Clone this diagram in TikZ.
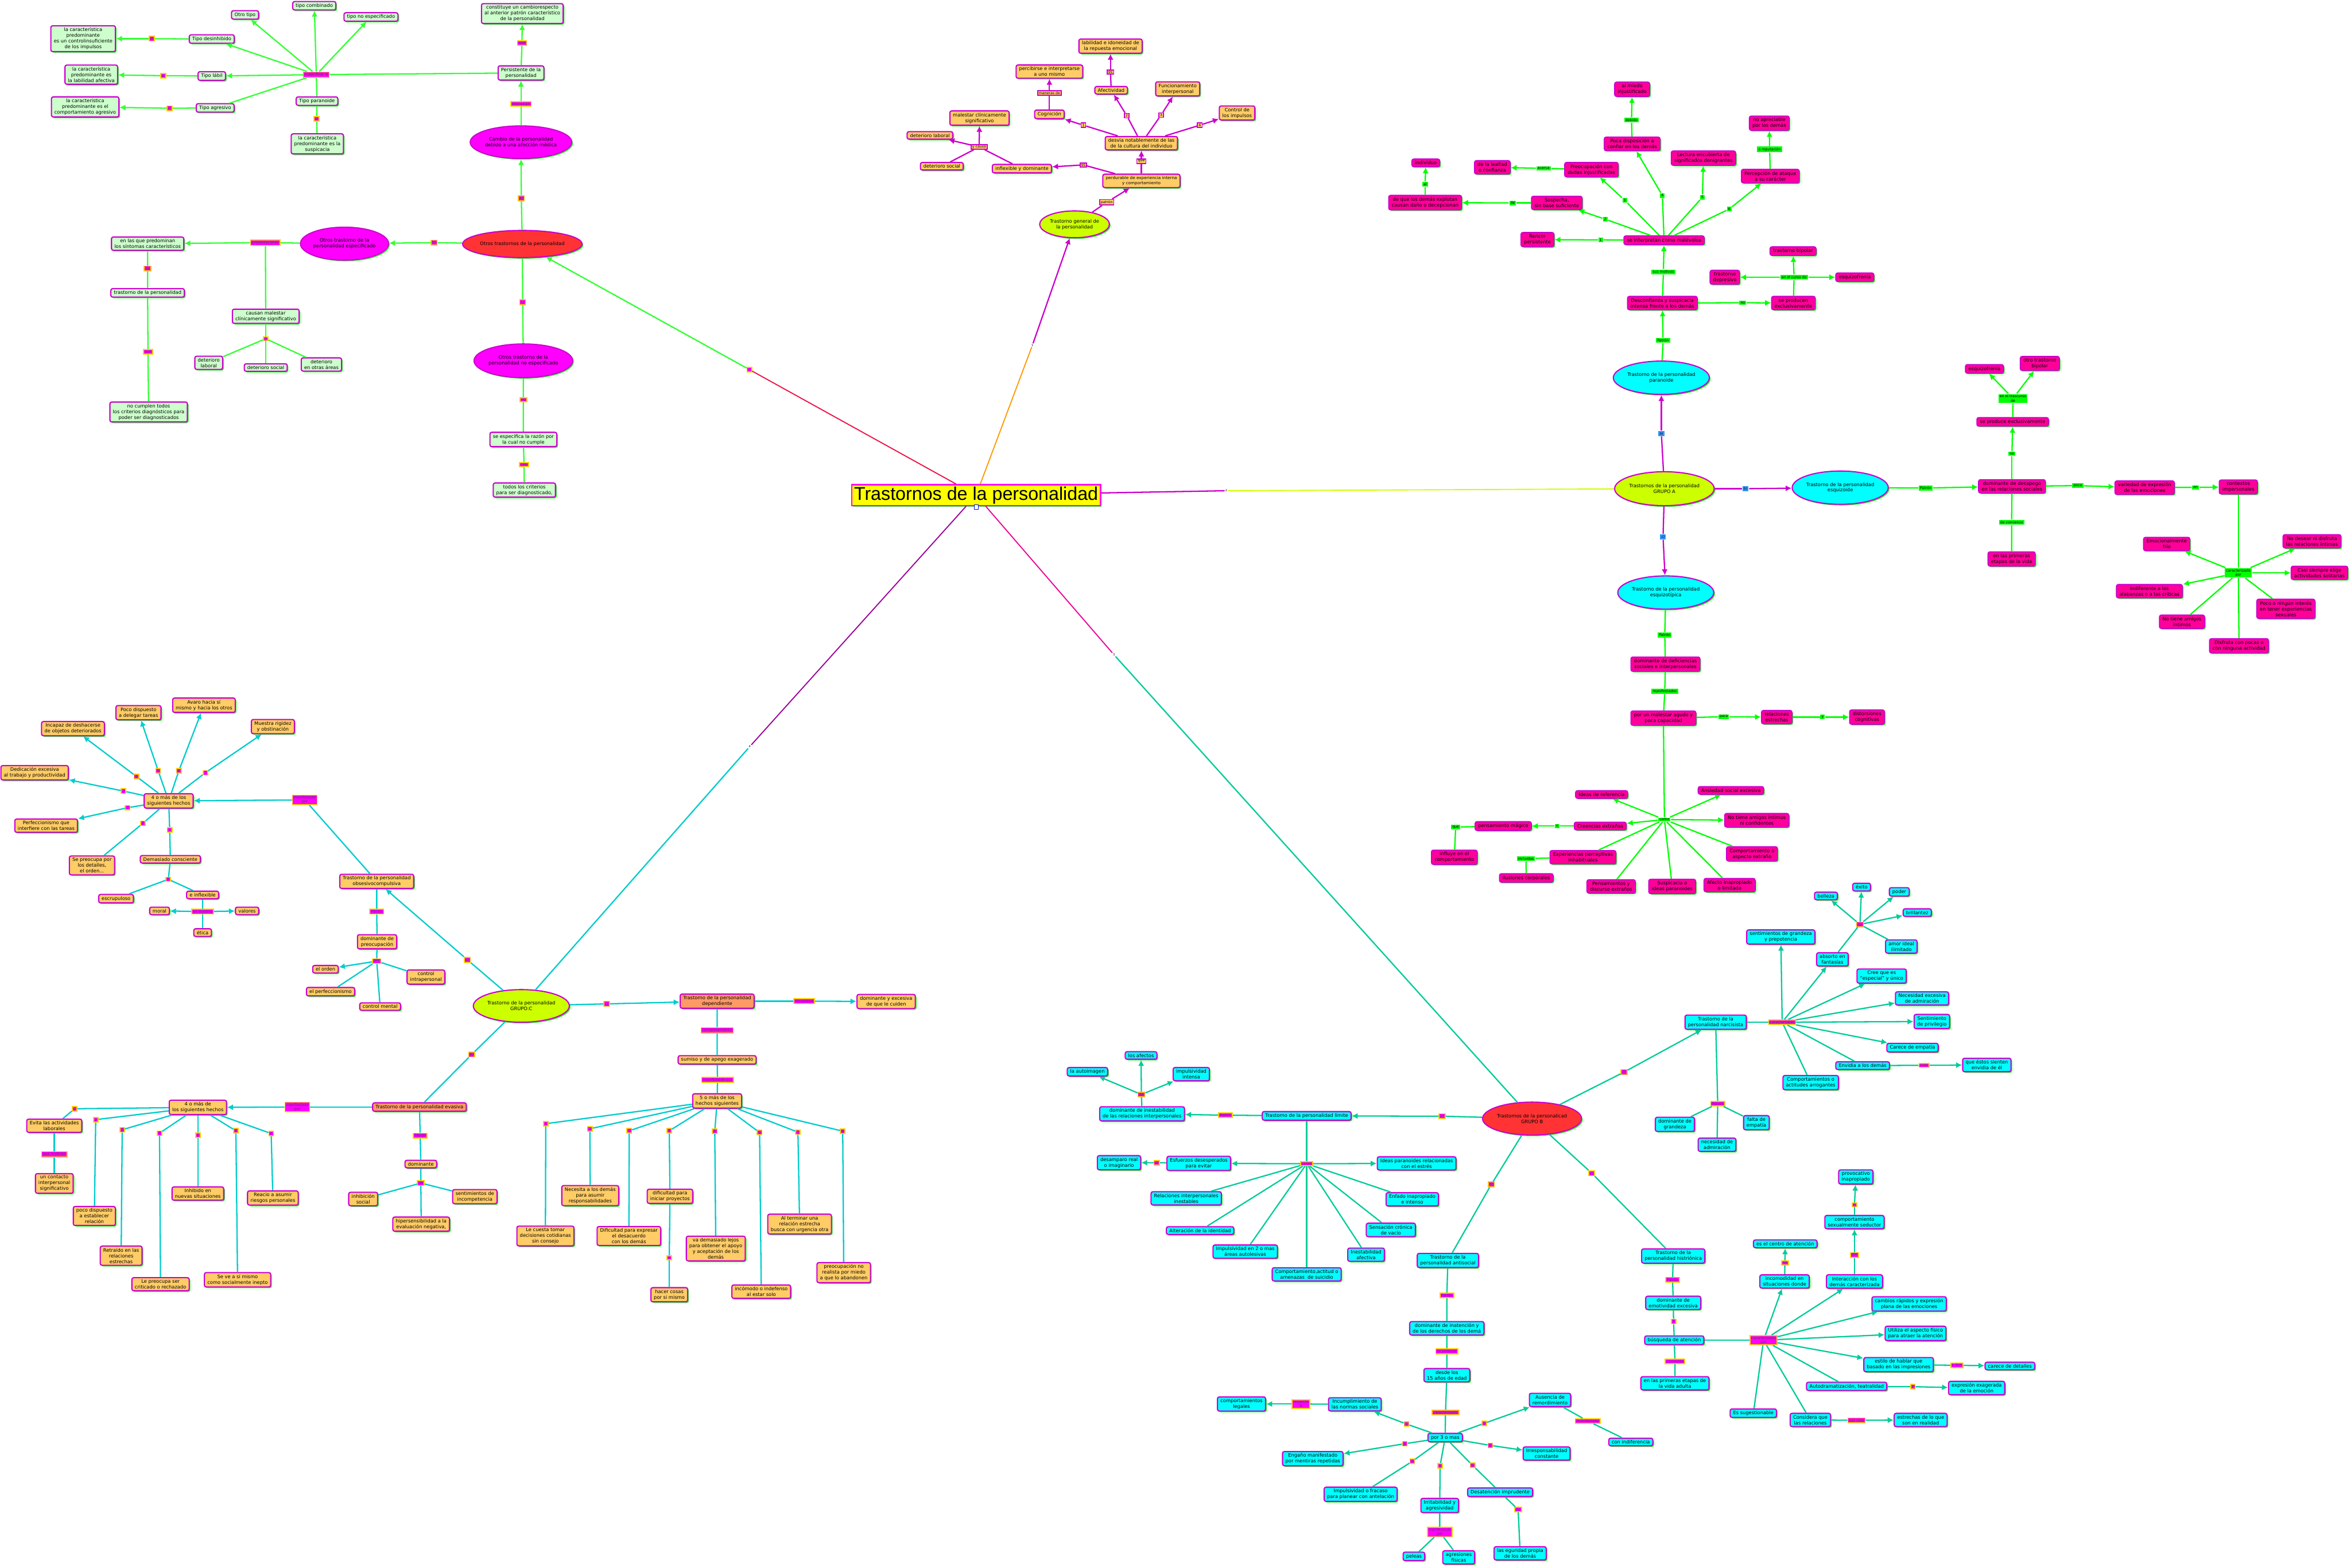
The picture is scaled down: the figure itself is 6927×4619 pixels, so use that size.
\documentclass[tikz,border=0pt]{standalone}
\usepackage{fontspec}
\setmainfont{DejaVu Sans}
\newfontfamily\titlefont{Liberation Sans}
\usetikzlibrary{shapes.geometric,shadows,arrows.meta}
\definecolor{boxgreen}{HTML}{CCFFCC}
\definecolor{boxorange}{HTML}{FFCC66}
\definecolor{boxpink}{HTML}{FF0099}
\definecolor{boxcyan}{HTML}{00FFFF}
\definecolor{boxsalmon}{HTML}{FF9966}
\definecolor{bordermag}{HTML}{CC00CC}
\definecolor{shadowgreen}{HTML}{33FF33}
\definecolor{lblmag}{HTML}{FF00FF}
\definecolor{lblorange}{HTML}{FFCC00}
\definecolor{lblgreen}{HTML}{00FF00}
\definecolor{lblblue}{HTML}{3399FF}
\definecolor{ellred}{HTML}{FF3333}
\definecolor{ellmag}{HTML}{FF00FF}
\definecolor{elllime}{HTML}{CCFF00}
\definecolor{titleyellow}{HTML}{FFFF00}
\definecolor{cgreen}{HTML}{33FF33}
\definecolor{cmag}{HTML}{CC00CC}
\definecolor{cbright}{HTML}{00FF00}
\definecolor{cteal}{HTML}{00CC99}
\definecolor{ccyan}{HTML}{00CCCC}
\definecolor{cred}{HTML}{EE1144}
\definecolor{corange}{HTML}{FF9900}
\definecolor{clime}{HTML}{CCFF00}
\definecolor{cpink}{HTML}{EE0099}
\definecolor{cpurple}{HTML}{990099}
\newcommand{\boxtxt}{\fontsize{4}{4.8}\selectfont}
\newcommand{\lbltxt}{\fontsize{3}{3.4}\selectfont}

\begin{document}
\begin{tikzpicture}[x=0.01cm,y=-0.01cm,
  shade/.style={drop shadow={shadow xshift=1pt,shadow yshift=-1pt,fill=shadowgreen,opacity=1}},
  box/.style={rectangle,rounded corners=1.5pt,draw=bordermag,line width=1pt,align=center,
    font=\boxtxt,inner xsep=2.5pt,inner ysep=1.6pt,shade},
  gbox/.style={box,fill=boxgreen},
  obox/.style={box,fill=boxorange},
  pbox/.style={box,fill=boxpink},
  cbox/.style={box,fill=boxcyan},
  sbox/.style={box,fill=boxsalmon},
  ell/.style={ellipse,draw=bordermag,line width=1pt,align=center,font=\boxtxt,
    inner sep=0pt,minimum width=2.4cm,minimum height=0.98cm,shade},
  lbl/.style={rectangle,font=\lbltxt,align=center,inner xsep=1pt,inner ysep=0.8pt,
    fill=lblmag,draw=lblorange,line width=0.8pt,text=black!80!magenta},
  olbl/.style={lbl,fill=boxorange,draw=bordermag,text=black},
  glbl/.style={lbl,fill=lblgreen,draw=none,text=black},
  blbl/.style={lbl,fill=lblblue,draw=none,text=black},
  num/.style={font=\fontsize{2.5}{3}\selectfont,inner sep=0.4pt,fill=white},
  arr/.style={-{Latex[length=5pt,width=5pt]}},
  egreen/.style={draw=cgreen,line width=1.1pt},
  emag/.style={draw=cmag,line width=1.1pt},
  ebright/.style={draw=cbright,line width=1.1pt},
  eteal/.style={draw=cteal,line width=1.1pt},
  ecyan/.style={draw=ccyan,line width=1.1pt},
  ered/.style={draw=cred,line width=0.9pt},
  eorange/.style={draw=corange,line width=0.9pt},
  elime/.style={draw=clime,line width=0.9pt},
  epink/.style={draw=cpink,line width=0.9pt},
  epurple/.style={draw=cpurple,line width=0.9pt}]

\fill[white] (0,0) rectangle (6927,4619);
\useasboundingbox (0,0) rectangle (6927,4619);

% Title
\node[draw=ellmag,fill=titleyellow,line width=1.2pt,inner xsep=2pt,inner ysep=1.5pt,
  font=\titlefont\fontsize{15.5}{16}\selectfont,shade] (title) at (2876,1459) {Trastornos de la personalidad};
\node[draw=blue,fill=white,line width=0.4pt,minimum size=0.12cm,inner sep=0pt] (icon) at (2876,1494) {};

% Numbers on the main branches
\node[num] (m1) at (3042,1017) {1};
\node[num] (m2) at (3613,1446) {2};
\node[num] (m3) at (3282,1929) {3};
\node[num] (m5) at (2209,2200) {4};
\node[lbl] (l4) at (2208,1089) {4};

% Otros trastornos de la personalidad
\node[ell,fill=ellred,minimum width=2.7cm,minimum height=0.8cm] (otros) at (1539,719) {Otros trastornos de la personalidad};
\node[lbl] (la) at (1536,584) {a)};
\node[ell,fill=ellmag,minimum width=2.39cm,minimum height=0.96cm] (cambio) at (1535,419) {Cambio de la personalidad\\debido a una afección médica};
\node[lbl] (alter) at (1535,306) {Alteración};
\node[gbox] (persis) at (1535,215) {Persistente de la\\personalidad};
\node[lbl] (queper) at (1538,127) {que};
\node[gbox] (constit) at (1539,40) {constituye un cambiorespecto\\al anterior patrón característico\\de la personalidad};
\node[lbl] (espsi) at (932,220) {especificar si};
\node[gbox] (otro) at (722,44) {Otro tipo};
\node[gbox] (comb) at (926,17) {tipo combinado};
\node[gbox] (noesp) at (1093,50) {tipo no especificado};
\node[gbox] (desin) at (624,115) {Tipo desinhibido};
\node[lbl] (sidesin) at (447,114) {si};
\node[gbox] (cdesin) at (245,114) {la característica\\predominante\\es un controlinsuficiente\\de los impulsos};
\node[gbox] (labil) at (624,224) {Tipo lábil};
\node[lbl] (silabil) at (481,223) {si};
\node[gbox] (clabil) at (269,220) {la característica\\predominante es\\la labilidad afectiva};
\node[gbox] (agres) at (634,318) {Tipo agresivo};
\node[lbl] (siagres) at (500,319) {si};
\node[gbox] (cagres) at (251,315) {la característica\\predominante es el\\comportamiento agresivo};
\node[gbox] (paran) at (934,298) {Tipo paranoide};
\node[lbl] (siparan) at (933,350) {si};
\node[gbox] (cparan) at (935,424) {la característica\\predominante es la\\suspicacia};
\node[lbl] (lb) at (1279,715) {b)};
\node[ell,fill=ellmag,minimum width=2.16cm,minimum height=0.97cm] (otresp) at (1015,718) {Otros trastorno de la\\personalidad especificado};
\node[lbl] (present) at (782,715) {presentaciones};
\node[gbox] (predom) at (435,718) {en las que predominan\\los síntomas característicos};
\node[lbl] (lde) at (435,791) {de};
\node[gbox] (trper) at (435,863) {trastorno de la personalidad};
\node[lbl] (lque) at (436,1037) {que};
\node[gbox] (nocumpl) at (438,1214) {no cumplen todos\\los criterios diagnósticos para\\poder ser diagnosticados};
\node[gbox] (causan) at (783,932) {causan malestar\\clínicamente significativo};
\node[lbl] (lo) at (783,998) {o};
\node[gbox] (detlab) at (615,1069) {deterioro\\laboral};
\node[gbox] (detsoc) at (783,1083) {deterioro social};
\node[gbox] (detotr) at (947,1074) {deterioro\\en otras áreas};
\node[lbl] (lc) at (1540,890) {c)};
\node[ell,fill=ellmag,minimum width=2.35cm,minimum height=0.99cm] (otrnoesp) at (1542,1063) {Otros trastorno de la\\personalidad no especificado};
\node[lbl] (lno) at (1542,1178) {no};
\node[gbox] (razon) at (1542,1295) {se especifica la razón por\\la cual no cumple};
\node[lbl] (lcon) at (1544,1369) {con};
\node[gbox] (todos) at (1545,1444) {todos los criterios\\para ser diagnosticado,};

% Trastorno general de la personalidad
\node[ell,fill=elllime,minimum width=1.56cm,minimum height=0.79cm] (general) at (3166,661) {Trastorno general de\\la personalidad};
\node[olbl] (patron) at (3261,596) {patrón};
\node[obox,font=\fontsize{3.5}{4.6}\selectfont] (perdur) at (3363,533) {perdurable de experiencia interna\\y comportamiento};
\node[olbl] (lque2) at (3363,475) {que};
\node[obox] (desvia) at (3363,422) {desvìa notablemente de las\\de la cultura del individuo};
\node[olbl] (n1) at (3192,369) {1};
\node[olbl] (n2) at (3320,341) {2};
\node[olbl] (n3) at (3421,339) {3};
\node[olbl] (n4) at (3535,369) {4};
\node[obox] (cogn) at (3092,337) {Cognición};
\node[olbl] (maneras) at (3092,274) {maneras de};
\node[obox] (percib) at (3092,211) {percibirse e interpretarse\\a uno mismo};
\node[obox] (afect) at (3274,266) {Afectividad};
\node[olbl] (les) at (3272,212) {es};
\node[obox] (labil2) at (3272,136) {labilidad e idoneidad de\\la repuesta emocional};
\node[obox] (funcion) at (3470,262) {Funcionamiento\\interpersonal};
\node[obox] (control) at (3645,333) {Control de\\los impulsos};
\node[olbl] (les2) at (3192,486) {es};
\node[obox] (inflex) at (3011,497) {inflexible y dominante};
\node[olbl] (ycausa) at (2885,433) {y causa};
\node[obox] (malest) at (2886,348) {malestar clínicamente\\significativo};
\node[obox] (detlab2) at (2740,399) {deterioro laboral};
\node[obox] (detsoc2) at (2775,490) {deterioro social};

% GRUPO A
\node[ell,fill=elllime,minimum width=2.43cm,minimum height=1cm] (grupoA) at (4904,1440) {Trastornos de la personalidad\\GRUPO A};
\node[blbl] (la2) at (4895,1277) {a)};
\node[blbl] (lb2) at (5143,1440) {b)};
\node[blbl] (lc2) at (4900,1582) {c)};
% paranoide
\node[ell,fill=boxcyan] (paranoide) at (4895,1113) {Trastorno de la personalidad\\paranoide};
\node[glbl] (lpatP) at (4900,1003) {Patrón};
\node[pbox] (desconf) at (4898,893) {Desconfianza y suspicacia\\intensa frente a los demás};
\node[glbl] (lmotiv) at (4901,801) {sus motivos};
\node[pbox] (malev) at (4903,708) {se interpretan como malévolos};
\node[glbl] (lno2) at (5135,892) {no};
\node[pbox] (exclus) at (5284,893) {se producen\\exclusivamente};
\node[glbl] (lcurso) at (5286,817) {en el curso de};
\node[pbox] (bipolar) at (5283,740) {trastorno bipolar};
\node[pbox] (depres) at (5082,817) {trastorno\\depresivo};
\node[pbox] (esquiz) at (5465,817) {esquizofrenia};
\node[glbl] (p1) at (4716,707) {1};
\node[glbl] (p2) at (4730,646) {2};
\node[glbl] (p3) at (4787,590) {3};
\node[glbl] (p4) at (4898,576) {4};
\node[glbl] (p5) at (5016,581) {5};
\node[glbl] (p6) at (5095,616) {6};
\node[pbox] (rencor) at (4530,706) {Rencor\\persistente};
\node[pbox] (sospecha) at (4587,598) {Sospecha,\\sin base suficiente};
\node[glbl] (lde3) at (4457,598) {de};
\node[pbox] (explot) at (4199,597) {de que los demás explotan\\causan daño o decepcionan};
\node[glbl] (lal) at (4199,543) {al};
\node[pbox] (indiv) at (4201,480) {individuo};
\node[pbox] (preocup) at (4689,500) {Preocupación con\\dudas injustificadas};
\node[glbl] (lacerca) at (4548,496) {acerca};
\node[pbox] (lealtad) at (4397,493) {de la lealtad\\o confianza};
\node[pbox] (poca) at (4809,424) {Poca disposición a\\confiar en los demás};
\node[glbl] (ldebido) at (4807,354) {debido};
\node[pbox] (miedo) at (4809,263) {al miedo\\injustificado};
\node[pbox] (lectura) at (5019,466) {Lectura encubierta de\\significados denigrantes};
\node[pbox] (percep) at (5216,519) {Percepción de ataque\\a su carácter};
\node[glbl] (lorep) at (5214,440) {o reputación};
\node[pbox] (noapr) at (5213,363) {no apreciable\\por los demás};
% esquizoide
\node[ell,fill=boxcyan] (esquizoide) at (5422,1437) {Trastorno de la personalidad\\esquizoide};
\node[glbl] (lpatE) at (5674,1438) {Patrón};
\node[pbox] (desapego) at (5928,1433) {dominante de desapego\\en las relaciones sociales};
\node[glbl] (lno3) at (5928,1337) {no};
\node[pbox] (seprod) at (5930,1243) {se produce exclusivamente};
\node[glbl] (ltrasc) at (5931,1174) {en el trascurso\\de};
\node[pbox] (esquiz2) at (5847,1087) {esquizofrenia};
\node[pbox] (otrobip) at (6010,1071) {otro trastorno\\bipolar};
\node[glbl] (lcomienzo) at (5927,1539) {de comienzo};
\node[pbox] (primeras) at (5927,1647) {en las primeras\\etapas de la vida};
\node[glbl] (lpoca) at (6122,1431) {poca};
\node[pbox] (variedad) at (6319,1437) {variedad de expresión\\de las emociones};
\node[glbl] (len) at (6469,1436) {en};
\node[pbox] (contextos) at (6595,1435) {contextos\\impersonales};
\node[glbl] (lcaract) at (6595,1688) {caracterizada\\por};
\node[pbox] (frio) at (6384,1603) {Emocionalmente\\frío};
\node[pbox] (nodesear) at (6812,1595) {No desear ni disfruta\\las relaciones íntimas};
\node[pbox] (casi) at (6834,1688) {Casi siempre elige\\actividades solitarias};
\node[pbox] (indif) at (6333,1742) {Indiferente a las\\alabanzas o a las críticas};
\node[pbox] (pocoint) at (6735,1794) {Poco o ningún interés\\en tener experiencias\\sexuales};
\node[pbox] (notiene) at (6429,1832) {No tiene amigos\\íntimos};
\node[pbox] (disfruta) at (6597,1903) {Disfruta con pocas o\\con ninguna actividad};
% esquizotipica
\node[ell,fill=boxcyan] (esquizot) at (4908,1746) {Trastorno de la personalidad\\esquizotípica};
\node[glbl] (lpatT) at (4905,1871) {Patrón};
\node[pbox] (defic) at (4907,1957) {dominante de deficiencias\\sociales e interpersonales};
\node[glbl] (lmanif) at (4905,2037) {manifestados};
\node[pbox] (malagudo) at (4901,2116) {por un malestar agudo y\\poca capacidad};
\node[glbl] (lpara) at (5079,2112) {para};
\node[pbox] (relest) at (5235,2113) {relaciones\\estrechas};
\node[glbl] (ly) at (5370,2113) {y};
\node[pbox] (distors) at (5501,2113) {distorsiones\\cognitivas};
\node[glbl] (lcomo) at (4904,2415) {como};
\node[pbox] (ideasref) at (4719,2341) {Ideas de referencia};
\node[pbox] (ansiedad) at (5100,2329) {Ansiedad social excesiva};
\node[pbox] (notiene2) at (5176,2417) {No tiene amigos íntimos\\ni confidentes};
\node[pbox] (creenc) at (4715,2434) {Creencias extrañas};
\node[glbl] (lo3) at (4588,2434) {o};
\node[pbox] (magico) at (4429,2434) {pensamiento mágico};
\node[glbl] (lque3) at (4289,2437) {que};
\node[pbox] (influye) at (4285,2526) {influye en el\\comportamiento};
\node[pbox] (experi) at (4664,2526) {Experiencias perceptivas\\inhabituales};
\node[glbl] (lincl) at (4496,2530) {incluidas};
\node[pbox] (ilusion) at (4497,2587) {ilusiones corporales};
\node[pbox] (comport) at (5162,2516) {Comportamiento o\\aspecto extraño};
\node[pbox] (pensam) at (4747,2612) {Pensamientos y\\discurso extraños};
\node[pbox] (suspic) at (4927,2612) {Suspicacia o\\ideas paranoides};
\node[pbox] (afecto) at (5096,2608) {Afecto inapropiado\\o limitado};

% GRUPO B
\node[ell,fill=ellred,minimum width=2.4cm,minimum height=0.97cm] (grupoB) at (4514,3296) {Trastornos de la personalicad\\GRUPO B};
\node[lbl] (la4) at (4249,3289) {a)};
\node[lbl] (lb4) at (4394,3490) {b)};
\node[lbl] (lc4) at (4690,3457) {c)};
\node[lbl] (ld4) at (4785,3159) {d)};
% limite
\node[cbox] (limite) at (3850,3288) {Trastorno de la personalidad límite};
\node[lbl] (lpatL) at (3611,3286) {Patrón};
\node[cbox] (dominest) at (3365,3282) {dominante de inestabilidad\\de las relaciones interpersonales};
\node[lbl] (lde5) at (3363,3225) {de};
\node[cbox] (autoimg) at (3204,3158) {la autoimagen};
\node[cbox] (afectos) at (3362,3110) {los afectos};
\node[cbox] (impuls) at (3510,3165) {impulsividad\\intensa};
\node[lbl] (lcomo2) at (3850,3429) {como};
\node[cbox] (esfuer) at (3532,3428) {Esfuerzos desesperados\\para evitar};
\node[lbl] (lel) at (3408,3426) {el};
\node[cbox] (desamp) at (3297,3426) {desamparo real\\o imaginario};
\node[cbox] (ideaspar) at (4174,3428) {Ideas paranoides relacionadas\\con el estrés};
\node[cbox] (relinest) at (3495,3531) {Relaciones interpersonales\\inestables};
\node[cbox] (enfado) at (4161,3534) {Enfado inapropiado\\e intenso};
\node[cbox] (altid) at (3536,3626) {Alteración de la identidad};
\node[cbox] (sensac) at (4098,3624) {Sensación crónica\\de vacío};
\node[cbox] (impauto) at (3669,3688) {Impulsividad en 2 o mas\\áreas autolesivas};
\node[cbox] (inestaf) at (4025,3697) {Inestabilidad\\afectiva};
\node[cbox] (suicid) at (3850,3755) {Comportamiento,actitud o\\amenazas\ \ de suicidio};
% antisocial
\node[cbox] (antisoc) at (4266,3714) {Trastorno de la\\personalidad antisocial};
\node[lbl] (lpatA) at (4263,3817) {Patrón};
\node[cbox] (inaten) at (4263,3914) {dominante de inatención y\\de los derechos de los demá};
\node[lbl] (lseprod) at (4263,3982) {se produce};
\node[cbox] (desde15) at (4263,4052) {desde los\\15 años de edad};
\node[lbl] (lcarA) at (4259,4162) {caracterizado};
\node[cbox] (por3) at (4258,4236) {por 3 o mas};
\node[lbl] (a1) at (4144,4196) {1};
\node[cbox] (incumpl) at (3992,4138) {Incumplimiento de\\las normas sociales};
\node[lbl] (lresp) at (3833,4137) {respecto\\a};
\node[cbox] (comleg) at (3658,4137) {comportamientos\\legales};
\node[lbl] (a2) at (4139,4254) {2};
\node[cbox] (engano) at (3868,4298) {Engaño manifestado\\por mentiras repetidas};
\node[lbl] (a3) at (4161,4306) {3};
\node[cbox] (impfrac) at (4009,4403) {Impulsividad o fracaso\\para planear con antelación};
\node[lbl] (a4) at (4243,4319) {4};
\node[cbox] (irrit) at (4242,4436) {Irritabilidad y\\agresividad};
\node[lbl] (lmanp) at (4242,4514) {manifestada\\por};
\node[cbox] (peleas) at (4166,4586) {peleas};
\node[cbox] (agresf) at (4298,4589) {agresiones\\físicas};
\node[lbl] (a5) at (4339,4318) {5};
\node[cbox] (desaten) at (4420,4397) {Desatención imprudente};
\node[lbl] (lde6) at (4473,4448) {de};
\node[cbox] (seguri) at (4479,4577) {las eguridad propia\\de los demás};
\node[lbl] (a6) at (4391,4259) {6};
\node[cbox] (irresp) at (4557,4283) {Irresponsabilidad\\constante};
\node[lbl] (a7) at (4373,4194) {7};
\node[cbox] (ausen) at (4567,4125) {Ausencia de\\remordimiento};
\node[lbl] (lmanA) at (4678,4187) {manifestado};
\node[cbox] (conind) at (4805,4249) {con indiferencia};
% narcisista
\node[cbox] (narcis) at (5055,3012) {Trastorno de la\\personalidad narcisista};
\node[lbl] (lcarN) at (5251,3012) {caracterizado};
\node[cbox] (sentim) at (5247,2761) {sentimientos de grandeza\\y prepotencia};
\node[cbox] (absorto) at (5399,2827) {absorto en\\fantasías};
\node[lbl] (lde4) at (5480,2724) {de};
\node[cbox] (belleza) at (5380,2640) {belleza};
\node[cbox] (exito) at (5485,2614) {éxito};
\node[cbox] (poder) at (5596,2628) {poder};
\node[cbox] (brill) at (5649,2689) {brillantez};
\node[cbox] (amor) at (5602,2789) {amor ideal\\ilimitado};
\node[cbox] (especial) at (5544,2876) {Cree que es\\“especial” y único};
\node[cbox] (necesid) at (5663,2942) {Necesidad excesiva\\de admiración};
\node[cbox] (privil) at (5692,3010) {Sentimiento\\de privilegio};
\node[cbox] (empat) at (5635,3087) {Carece de empatía};
\node[cbox] (envidia) at (5488,3140) {Envidia a los demás};
\node[lbl] (lcree) at (5669,3139) {cree};
\node[cbox] (sienten) at (5854,3138) {que éstos sienten\\envidia de él};
\node[cbox] (arrog) at (5335,3190) {Comportamientos o\\actitudes arrogantes};
\node[lbl] (lpatN) at (5061,3252) {Patrón};
\node[cbox] (domgr) at (4935,3313) {dominante de\\grandeza};
\node[cbox] (necad) at (5059,3373) {necesidad de\\admiración};
\node[cbox] (faltaem) at (5175,3308) {falta de\\empatía};
% histrionica
\node[cbox] (histr) at (4930,3701) {Trastorno de la\\personalidad histriónica};
\node[lbl] (lpatH) at (4928,3771) {Patrón};
\node[cbox] (emotiv) at (4930,3839) {dominante de\\emotividad excesiva};
\node[lbl] (ly2) at (4931,3894) {y};
\node[cbox] (busq) at (4933,3949) {búsqueda de atención};
\node[lbl] (lcomien) at (4935,4011) {comienza};
\node[cbox] (adulta) at (4935,4076) {en las primeras etapas de\\la vida adulta};
\node[lbl] (lcarH) at (5196,3949) {caracterizado\\por};
\node[cbox] (incomod) at (5258,3776) {incomodidad en\\situaciones donde};
\node[lbl] (lno4) at (5259,3721) {no};
\node[cbox] (centro) at (5260,3665) {es el centro de atención};
\node[cbox] (interac) at (5464,3776) {Interacción con los\\demás caracterizada};
\node[lbl] (lpor) at (5464,3698) {por};
\node[cbox] (sexual) at (5464,3601) {comportamiento\\sexualmente seductor};
\node[lbl] (lo4) at (5464,3550) {o};
\node[cbox] (provoc) at (5468,3468) {provocativo\\inapropiado};
\node[cbox] (cambios) at (5625,3842) {cambios rápidos y expresión\\plana de las emociones};
\node[cbox] (utiliza) at (5644,3929) {Utiliza el aspecto físico\\para atraer la atención};
\node[cbox] (estilo) at (5594,4021) {estilo de hablar que\\basado en las impresiones};
\node[lbl] (lyque) at (5766,4023) {y que};
\node[cbox] (detalles) at (5922,4025) {carece de detalles};
\node[cbox] (autodr) at (5441,4085) {Autodramatización, teatralidad};
\node[lbl] (ly3) at (5636,4086) {y};
\node[cbox] (exager) at (5824,4090) {expresión exagerada\\de la emoción};
\node[cbox] (sugest) at (5166,4164) {Es sugestionable};
\node[cbox] (consid) at (5334,4184) {Considera que\\las relaciones};
\node[lbl] (lsonmas) at (5470,4185) {son más};
\node[cbox] (estrech) at (5659,4184) {estrechas de lo que\\son en realidad};

% GRUPO C
\node[ell,fill=elllime,minimum width=2.34cm,minimum height=0.96cm] (grupoC) at (1536,2964) {Trastorno de la personalidad\\GRUPO:C};
\node[lbl] (la3) at (1377,2828) {a)};
\node[lbl] (lb3) at (1390,3107) {b)};
\node[lbl] (lc3) at (1788,2958) {c)};
% obsesiva
\node[obox] (obses) at (1110,2597) {Trastorno de la personalidad\\obsesivocompulsiva};
\node[lbl] (lmanO) at (898,2357) {manifestado\\por};
\node[obox] (hechosO) at (497,2360) {4 o más de los\\siguientes hechos};
\node[lbl] (o1) at (500,2445) {1};
\node[lbl] (o2) at (376,2380) {2};
\node[lbl] (o2b) at (421,2426) {2};
\node[lbl] (o3) at (364,2331) {3};
\node[lbl] (o4) at (402,2288) {4};
\node[lbl] (o5) at (466,2271) {5};
\node[lbl] (o6) at (527,2271) {6};
\node[lbl] (o7) at (605,2277) {7};
\node[obox] (incapaz) at (215,2147) {Incapaz de deshacerse\\de objetos deteriorados};
\node[obox] (pocodel) at (408,2100) {Poco dispuesto\\a delegar tareas};
\node[obox] (avaro) at (601,2078) {Avaro hacia sí\\mismo y hacia los otros};
\node[obox] (rigidez) at (804,2141) {Muestra rigidez\\y obstinación};
\node[obox] (dedic) at (102,2277) {Dedicación excesiva\\al trabajo y productividad};
\node[obox] (perfec) at (136,2433) {Perfeccionismo que\\interfiere con las tareas};
\node[obox] (detall) at (271,2550) {Se preocupa por\\los detalles,\\el orden...};
\node[obox] (demas) at (502,2532) {Demasiado consciente};
\node[lbl] (lo5) at (496,2591) {o};
\node[obox] (escrup) at (342,2648) {escrupuloso};
\node[obox] (inflexb) at (597,2637) {e inflexible};
\node[lbl] (lmat) at (597,2686) {en materia};
\node[obox] (moral) at (470,2684) {moral};
\node[obox] (valores) at (728,2684) {valores};
\node[obox] (etica) at (597,2748) {ética};
\node[lbl] (lpatO) at (1110,2686) {Patrón};
\node[obox] (dompre) at (1111,2775) {dominante de\\preocupación};
\node[lbl] (lporO) at (1110,2832) {por};
\node[obox] (elorden) at (959,2856) {el orden};
\node[obox] (elperf) at (974,2922) {el perfeccionismo};
\node[obox] (ctrlmen) at (1120,2966) {control mental};
\node[obox] (ctrlint) at (1255,2879) {control\\intrapersonal};
% evasiva
\node[sbox] (evasiva) at (1236,3262) {Trastorno de la personalidad evasiva};
\node[lbl] (lmanE) at (876,3262) {manifestado\\por};
\node[obox] (hechosE) at (583,3263) {4 o más de\\los siguientes hechos};
\node[lbl] (e1) at (220,3267) {1};
\node[lbl] (e2) at (282,3299) {2};
\node[lbl] (e3) at (360,3329) {3};
\node[lbl] (e4) at (470,3339) {4};
\node[lbl] (e5) at (583,3345) {5};
\node[lbl] (e6) at (695,3332) {6};
\node[lbl] (e7) at (799,3340) {7};
\node[obox] (evita) at (160,3317) {Evita las actividades\\laborales};
\node[lbl] (lqueimp) at (160,3401) {que implican};
\node[obox] (contacto) at (160,3487) {un contacto\\interpersonal\\significativo};
\node[obox] (pocoest) at (278,3583) {poco dispuesto\\a establecer\\relación};
\node[obox] (retraido) at (357,3700) {Retraído en las\\relaciones\\estrechas};
\node[obox] (lepreoc) at (473,3784) {Le preocupa ser\\criticado o rechazado};
\node[obox] (inhibido) at (583,3517) {Inhibido en\\nuevas situaciones};
\node[obox] (seve) at (700,3771) {Se ve a sí mismo\\como socialmente inepto};
\node[obox] (reacio) at (804,3530) {Reacio a asumir\\riesgos personales};
\node[lbl] (lpatEv) at (1238,3346) {Patrón};
\node[obox] (domin) at (1240,3430) {dominante};
\node[lbl] (ldeEv) at (1240,3486) {de};
\node[obox] (inhib) at (1070,3533) {inhibición\\social};
\node[obox] (sentinc) at (1399,3526) {sentimientos de\\incompetencia};
\node[obox] (hipers) at (1241,3607) {hipersensibilidad a la\\evaluación negativa,};
% dependiente
\node[sbox] (depend) at (2113,2950) {Trastorno de la personalidad\\dependiente};
\node[lbl] (lneces) at (2369,2950) {necesidad};
\node[obox] (domexc) at (2611,2951) {dominante y excesiva\\de que le cuiden};
\node[lbl] (lcomp) at (2113,3036) {comportamiento};
\node[obox] (sumiso) at (2113,3123) {sumiso y de apego exagerado};
\node[lbl] (lmanD) at (2114,3182) {manifestado por};
\node[obox] (hechosD) at (2113,3244) {5 o más de los\\hechos siguientes};
\node[lbl] (d1) at (1608,3311) {1};
\node[lbl] (d2) at (1738,3326) {2};
\node[lbl] (d3) at (1854,3332) {3};
\node[lbl] (d4) at (1972,3332) {4};
\node[lbl] (d5) at (2106,3333) {5};
\node[lbl] (d6) at (2238,3337) {6};
\node[lbl] (d7) at (2351,3336) {7};
\node[lbl] (d8) at (2483,3333) {8};
\node[obox] (cuesta) at (1607,3642) {Le cuesta tomar\\decisiones cotidianas\\sin consejo};
\node[obox] (necesita) at (1739,3523) {Necesita a los demás\\para asumir\\responsabilidades};
\node[obox] (difexp) at (1853,3642) {Dificultad para expresar\\el desacuerdo\\con los demás};
\node[obox] (difini) at (1974,3525) {dificultad para\\iniciar proyectos};
\node[lbl] (lo6) at (1972,3706) {o};
\node[obox] (hacer) at (1972,3815) {hacer cosas\\por si mismo};
\node[obox] (vadem) at (2109,3679) {va demasiado lejos\\para obtener el apoyo\\y aceptación de los\\demás};
\node[obox] (incomo) at (2243,3806) {incómodo o indefenso\\al estar solo};
\node[obox] (alterm) at (2356,3607) {Al terminar una\\relación estrecha\\busca con urgencia otra};
\node[obox] (preocno) at (2486,3750) {preocupación no\\realista por miedo\\a que lo abandonen};

% Main branches
\draw[ered] (title) -- (l4);
\draw[egreen,arr] (l4) -- (otros);
\draw[eorange] (title) -- (m1);
\draw[emag,arr] (m1) -- (general);
\draw[emag] (title) -- (m2);
\draw[elime] (m2) -- (grupoA);
\draw[epink] (title) -- (m3);
\draw[eteal] (m3) -- (grupoB);
\draw[epurple] (title) -- (m5);
\draw[ecyan] (m5) -- (grupoC);

% Otros trastornos
\draw[egreen] (otros) -- (la);
\draw[egreen,arr] (la) -- (cambio);
\draw[egreen] (cambio) -- (alter);
\draw[egreen,arr] (alter) -- (persis);
\draw[egreen] (persis) -- (queper);
\draw[egreen,arr] (queper) -- (constit);
\draw[egreen] (persis) -- (espsi);
\foreach \t in {otro,comb,noesp,desin,labil} \draw[egreen,arr] (espsi) -- (\t);
\draw[egreen] (espsi) -- (agres);
\draw[egreen] (espsi) -- (paran);
\draw[egreen] (desin) -- (sidesin);
\draw[egreen,arr] (sidesin) -- (cdesin);
\draw[egreen] (labil) -- (silabil);
\draw[egreen,arr] (silabil) -- (clabil);
\draw[egreen] (agres) -- (siagres);
\draw[egreen,arr] (siagres) -- (cagres);
\draw[egreen] (paran) -- (siparan) -- (cparan);
\draw[egreen] (otros) -- (lb);
\draw[egreen,arr] (lb) -- (otresp);
\draw[egreen] (otresp) -- (present);
\draw[egreen,arr] (present) -- (predom);
\draw[egreen] (present) -- (causan);
\draw[egreen] (predom) -- (lde) -- (trper) -- (lque) -- (nocumpl);
\draw[egreen] (causan) -- (lo);
\foreach \t in {detlab,detsoc,detotr} \draw[egreen] (lo) -- (\t);
\draw[egreen] (otros) -- (lc) -- (otrnoesp) -- (lno) -- (razon) -- (lcon) -- (todos);

% Trastorno general
\draw[emag] (general) -- (patron);
\draw[emag,arr] (patron) -- (perdur);
\draw[emag] (perdur) -- (lque2);
\draw[emag,arr] (lque2) -- (desvia);
\foreach \n/\t in {n1/cogn,n2/afect,n3/funcion,n4/control} {
  \draw[emag] (desvia) -- (\n);
  \draw[emag,arr] (\n) -- (\t);
}
\draw[emag] (cogn) -- (maneras);
\draw[emag,arr] (maneras) -- (percib);
\draw[emag] (afect) -- (les);
\draw[emag,arr] (les) -- (labil2);
\draw[emag] (perdur) -- (les2);
\draw[emag,arr] (les2) -- (inflex);
\draw[emag] (inflex) -- (ycausa);
\draw[emag,arr] (ycausa) -- (malest);
\draw[emag,arr] (ycausa) -- (detlab2);
\draw[emag] (ycausa) -- (detsoc2);

% GRUPO A
\draw[emag] (grupoA) -- (la2);
\draw[emag,arr] (la2) -- (paranoide);
\draw[emag] (grupoA) -- (lb2);
\draw[emag,arr] (lb2) -- (esquizoide);
\draw[emag] (grupoA) -- (lc2);
\draw[emag,arr] (lc2) -- (esquizot);
% paranoide
\draw[ebright] (paranoide) -- (lpatP);
\draw[ebright,arr] (lpatP) -- (desconf);
\draw[ebright] (desconf) -- (lmotiv);
\draw[ebright,arr] (lmotiv) -- (malev);
\draw[ebright] (desconf) -- (lno2);
\draw[ebright,arr] (lno2) -- (exclus);
\draw[ebright] (exclus) -- (lcurso);
\foreach \t in {bipolar,depres,esquiz} \draw[ebright,arr] (lcurso) -- (\t);
\foreach \n/\t in {p1/rencor,p2/sospecha,p3/preocup,p4/poca,p5/lectura,p6/percep} {
  \draw[ebright] (malev) -- (\n);
  \draw[ebright,arr] (\n) -- (\t);
}
\draw[ebright] (sospecha) -- (lde3);
\draw[ebright,arr] (lde3) -- (explot);
\draw[ebright] (explot) -- (lal);
\draw[ebright,arr] (lal) -- (indiv);
\draw[ebright] (preocup) -- (lacerca);
\draw[ebright,arr] (lacerca) -- (lealtad);
\draw[ebright] (poca) -- (ldebido);
\draw[ebright,arr] (ldebido) -- (miedo);
\draw[ebright] (percep) -- (lorep);
\draw[ebright,arr] (lorep) -- (noapr);
% esquizoide
\draw[ebright] (esquizoide) -- (lpatE);
\draw[ebright,arr] (lpatE) -- (desapego);
\draw[ebright] (desapego) -- (lno3);
\draw[ebright,arr] (lno3) -- (seprod);
\draw[ebright] (seprod) -- (ltrasc);
\draw[ebright,arr] (ltrasc) -- (esquiz2);
\draw[ebright,arr] (ltrasc) -- (otrobip);
\draw[ebright] (desapego) -- (lcomienzo) -- (primeras);
\draw[ebright] (desapego) -- (lpoca);
\draw[ebright,arr] (lpoca) -- (variedad);
\draw[ebright] (variedad) -- (len);
\draw[ebright,arr] (len) -- (contextos);
\draw[ebright] (contextos) -- (lcaract);
\foreach \t in {frio,nodesear,casi,indif} \draw[ebright,arr] (lcaract) -- (\t);
\foreach \t in {pocoint,notiene,disfruta} \draw[ebright] (lcaract) -- (\t);
% esquizotipica
\draw[ebright] (esquizot) -- (lpatT) -- (defic) -- (lmanif) -- (malagudo);
\draw[ebright] (malagudo) -- (lpara);
\draw[ebright,arr] (lpara) -- (relest);
\draw[ebright] (relest) -- (ly);
\draw[ebright,arr] (ly) -- (distors);
\draw[ebright] (malagudo) -- (lcomo);
\foreach \t in {ideasref,ansiedad,notiene2,creenc} \draw[ebright,arr] (lcomo) -- (\t);
\foreach \t in {experi,pensam,suspic,afecto,comport} \draw[ebright] (lcomo) -- (\t);
\draw[ebright] (creenc) -- (lo3);
\draw[ebright,arr] (lo3) -- (magico);
\draw[ebright] (magico) -- (lque3) -- (influye);
\draw[ebright] (experi) -- (lincl) -- (ilusion);

% GRUPO B
\draw[eteal] (grupoB) -- (la4);
\draw[eteal,arr] (la4) -- (limite);
\draw[eteal] (grupoB) -- (lb4) -- (antisoc);
\draw[eteal] (grupoB) -- (lc4) -- (histr);
\draw[eteal] (grupoB) -- (ld4);
\draw[eteal,arr] (ld4) -- (narcis);
% limite
\draw[eteal] (limite) -- (lpatL);
\draw[eteal,arr] (lpatL) -- (dominest);
\draw[eteal] (dominest) -- (lde5);
\foreach \t in {autoimg,afectos,impuls} \draw[eteal,arr] (lde5) -- (\t);
\draw[eteal] (limite) -- (lcomo2);
\draw[eteal,arr] (lcomo2) -- (esfuer);
\draw[eteal,arr] (lcomo2) -- (ideaspar);
\foreach \t in {relinest,altid,impauto,suicid,inestaf,sensac,enfado} \draw[eteal] (lcomo2) -- (\t);
\draw[eteal] (esfuer) -- (lel);
\draw[eteal,arr] (lel) -- (desamp);
% antisocial
\draw[eteal] (antisoc) -- (lpatA) -- (inaten) -- (lseprod) -- (desde15) -- (lcarA) -- (por3);
\draw[eteal] (por3) -- (a1);
\draw[eteal,arr] (a1) -- (incumpl);
\draw[eteal] (incumpl) -- (lresp);
\draw[eteal,arr] (lresp) -- (comleg);
\draw[eteal] (por3) -- (a2);
\draw[eteal,arr] (a2) -- (engano);
\draw[eteal] (por3) -- (a3) -- (impfrac);
\draw[eteal] (por3) -- (a4) -- (irrit) -- (lmanp);
\draw[eteal] (lmanp) -- (peleas);
\draw[eteal] (lmanp) -- (agresf);
\draw[eteal] (por3) -- (a5) -- (desaten) -- (lde6) -- (seguri);
\draw[eteal] (por3) -- (a6);
\draw[eteal,arr] (a6) -- (irresp);
\draw[eteal] (por3) -- (a7);
\draw[eteal,arr] (a7) -- (ausen);
\draw[eteal] (ausen) -- (lmanA) -- (conind);
% narcisista
\draw[eteal] (narcis) -- (lcarN);
\foreach \t in {sentim,absorto,especial,necesid,privil,empat} \draw[eteal,arr] (lcarN) -- (\t);
\draw[eteal] (lcarN) -- (envidia);
\draw[eteal] (lcarN) -- (arrog);
\draw[eteal] (absorto) -- (lde4);
\foreach \t in {belleza,exito,poder,brill} \draw[eteal,arr] (lde4) -- (\t);
\draw[eteal] (lde4) -- (amor);
\draw[eteal] (envidia) -- (lcree);
\draw[eteal,arr] (lcree) -- (sienten);
\draw[eteal] (narcis) -- (lpatN);
\foreach \t in {domgr,necad,faltaem} \draw[eteal] (lpatN) -- (\t);
% histrionica
\draw[eteal] (histr) -- (lpatH) -- (emotiv) -- (ly2) -- (busq) -- (lcomien) -- (adulta);
\draw[eteal] (busq) -- (lcarH);
\foreach \t in {incomod,interac,cambios,utiliza,estilo} \draw[eteal,arr] (lcarH) -- (\t);
\foreach \t in {autodr,sugest,consid} \draw[eteal] (lcarH) -- (\t);
\draw[eteal] (incomod) -- (lno4);
\draw[eteal,arr] (lno4) -- (centro);
\draw[eteal] (interac) -- (lpor);
\draw[eteal,arr] (lpor) -- (sexual);
\draw[eteal] (sexual) -- (lo4);
\draw[eteal,arr] (lo4) -- (provoc);
\draw[eteal] (estilo) -- (lyque);
\draw[eteal,arr] (lyque) -- (detalles);
\draw[eteal] (autodr) -- (ly3);
\draw[eteal,arr] (ly3) -- (exager);
\draw[eteal] (consid) -- (lsonmas);
\draw[eteal,arr] (lsonmas) -- (estrech);

% GRUPO C
\draw[ecyan] (grupoC) -- (la3);
\draw[ecyan,arr] (la3) -- (obses);
\draw[ecyan] (grupoC) -- (lb3) -- (evasiva);
\draw[ecyan] (grupoC) -- (lc3);
\draw[ecyan,arr] (lc3) -- (depend);
% obsesiva
\draw[ecyan] (obses) -- (lmanO);
\draw[ecyan,arr] (lmanO) -- (hechosO);
\foreach \n/\t in {o2/perfec,o3/dedic,o4/incapaz,o5/pocodel,o6/avaro,o7/rigidez} {
  \draw[ecyan] (hechosO) -- (\n);
  \draw[ecyan,arr] (\n) -- (\t);
}
\draw[ecyan] (hechosO) -- (o2b) -- (detall);
\draw[ecyan] (hechosO) -- (o1) -- (demas) -- (lo5);
\draw[ecyan] (lo5) -- (escrup);
\draw[ecyan] (lo5) -- (inflexb) -- (lmat);
\draw[ecyan,arr] (lmat) -- (moral);
\draw[ecyan,arr] (lmat) -- (valores);
\draw[ecyan] (lmat) -- (etica);
\draw[ecyan] (obses) -- (lpatO) -- (dompre) -- (lporO);
\draw[ecyan,arr] (lporO) -- (elorden);
\foreach \t in {elperf,ctrlmen,ctrlint} \draw[ecyan] (lporO) -- (\t);
% evasiva
\draw[ecyan] (evasiva) -- (lmanE);
\draw[ecyan,arr] (lmanE) -- (hechosE);
\foreach \n/\t in {e1/evita,e2/pocoest,e3/retraido,e4/lepreoc,e5/inhibido,e6/seve,e7/reacio}
  \draw[ecyan] (hechosE) -- (\n) -- (\t);
\draw[ecyan] (evita) -- (lqueimp) -- (contacto);
\draw[ecyan] (evasiva) -- (lpatEv) -- (domin) -- (ldeEv);
\foreach \t in {inhib,sentinc,hipers} \draw[ecyan] (ldeEv) -- (\t);
% dependiente
\draw[ecyan] (depend) -- (lneces);
\draw[ecyan,arr] (lneces) -- (domexc);
\draw[ecyan] (depend) -- (lcomp) -- (sumiso) -- (lmanD) -- (hechosD);
\foreach \n/\t in {d1/cuesta,d2/necesita,d3/difexp,d4/difini,d5/vadem,d6/incomo,d7/alterm,d8/preocno}
  \draw[ecyan] (hechosD) -- (\n) -- (\t);
\draw[ecyan] (difini) -- (lo6) -- (hacer);
\end{tikzpicture}
\end{document}
